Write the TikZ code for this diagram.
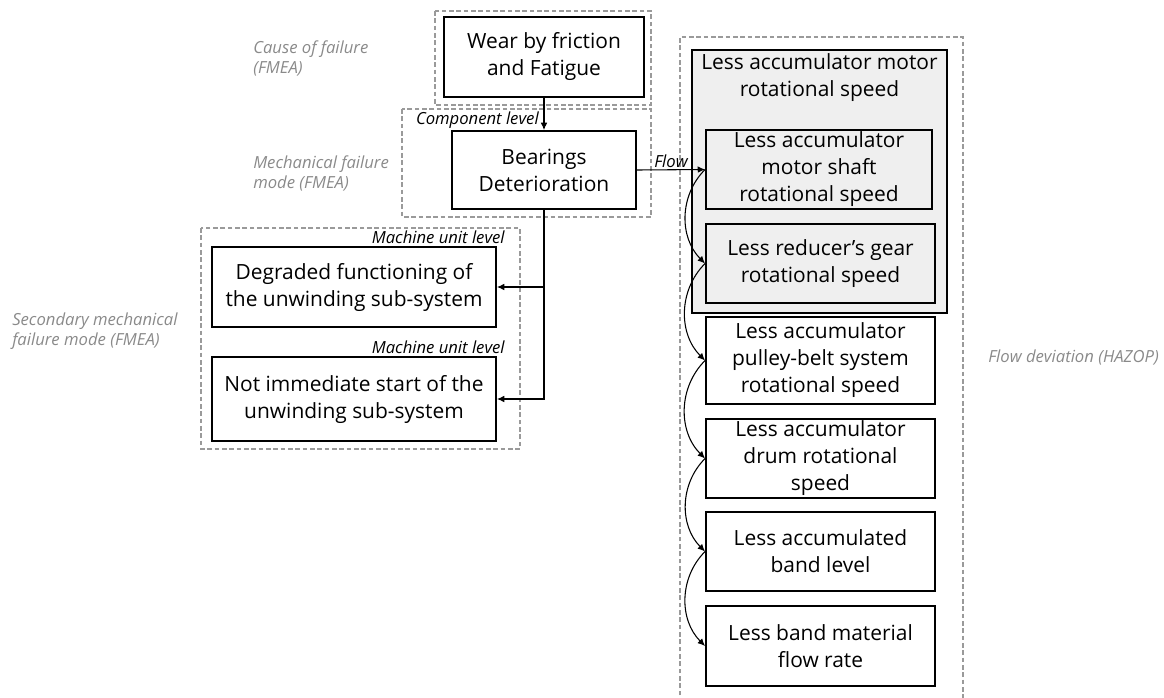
\documentclass[tikz,border=0pt]{standalone}
\usepackage{fontspec}
\setmainfont{Open Sans}
\usetikzlibrary{arrows.meta}

\definecolor{labelgray}{HTML}{8A8A8A}
\definecolor{dashgray}{HTML}{9A9A9A}
\definecolor{groupfill}{HTML}{EFEFEF}

\tikzset{
  x=0.75pt, y=-0.75pt,
  box/.style={draw=black, line width=1.4pt, fill=white, align=center,
    inner sep=0pt, font=\fontsize{15.7}{20.25}\selectfont},
  groupbox/.style={draw=black, line width=1.4pt, fill=groupfill, inner sep=0pt},
  zone/.style={draw=dashgray, line width=1.1pt, dash pattern=on 3.5pt off 2pt},
  sidelabel/.style={text=labelgray, align=left, anchor=west, inner sep=0pt,
    font=\fontsize{12.5}{15}\selectfont\itshape},
  levellabel/.style={anchor=east, inner sep=0pt, font=\fontsize{12.5}{14}\selectfont\itshape},
  arr/.style={draw=black, line width=0.8pt, -{Latex[length=5.5pt,width=5pt]}},
  chain/.style={arr, out=225, in=135, looseness=1},
}

\begin{document}
\begin{tikzpicture}
\useasboundingbox (0,0) rectangle (1164,697);

% dashed zones
\draw[zone] (435,11) rectangle (651,105);
\draw[zone] (402,109) rectangle (651,217);
\draw[zone] (201,228) rectangle (520,449);
\draw[zone] (680,710) -- (680,37) -- (963,37) -- (963,710);

% side labels
\node[sidelabel] (lcause) at (253,58.5) {Cause of failure\\(FMEA)};
\node[sidelabel] (lmech) at (253,173) {Mechanical failure\\mode (FMEA)};
\node[sidelabel] (lsec) at (12,331) {Secondary mechanical\\failure mode (FMEA)};
\node[sidelabel] (lflow) at (988,357) {Flow deviation (HAZOP)};

% level tags
\node[levellabel] (tcomp) at (539,120) {Component level};
\node[levellabel] (tmach1) at (505,237) {Machine unit level};
\node[levellabel] (tmach2) at (505,347) {Machine unit level};

% FMEA side
\node[box, minimum width=150pt, minimum height=60pt] (wear) at (544,57)
  {Wear by friction\\and Fatigue};
\node[box, minimum width=138pt, minimum height=58.5pt] (bear) at (544,170)
  {Bearings\\Deterioration};
\node[box, minimum width=213pt, minimum height=60pt] (degr) at (354,287)
  {Degraded functioning of\\the unwinding sub-system};
\node[box, minimum width=213pt, minimum height=63pt] (noti) at (354,399)
  {Not immediate start of the\\unwinding sub-system};

% HAZOP side
\node[groupbox, minimum width=191.25pt, minimum height=197.25pt] (motor) at (819.5,181.5) {};
\node[align=center, inner sep=0pt, font=\fontsize{15.7}{20.25}\selectfont] (motortxt) at (819.5,78)
  {Less accumulator motor\\rotational speed};
\node[box, fill=groupfill, minimum width=169.5pt, minimum height=59.25pt] (shaft) at (819,169.5)
  {Less accumulator\\motor shaft\\rotational speed};
\node[box, fill=groupfill, minimum width=171.75pt, minimum height=59.25pt] (gear) at (820.5,263.5)
  {Less reducer’s gear\\rotational speed};
\node[box, minimum width=171.75pt, minimum height=65.25pt] (pulley) at (820.5,360.5)
  {Less accumulator\\pulley-belt system\\rotational speed};
\node[box, minimum width=171.75pt, minimum height=59.25pt] (drum) at (820.5,458.5)
  {Less accumulator\\drum rotational\\speed};
\node[box, minimum width=171.75pt, minimum height=59.25pt] (band) at (820.5,551.5)
  {Less accumulated\\band level};
\node[box, minimum width=171.75pt, minimum height=60pt] (rate) at (820.5,646)
  {Less band material\\flow rate};

% connectors
\draw[arr] (wear.south) -- (bear.north);
\draw[arr] (bear.east) -- node[midway, above=1pt, inner sep=0pt,
  font=\fontsize{12.5}{14}\selectfont\itshape] (flowlbl) {Flow} (shaft.west);
\draw[arr] (bear.south) |- (degr.east);
\draw[arr] (bear.south) |- (noti.east);

\draw[chain] (shaft.west) to (gear.west);
\draw[chain] (gear.west) to (pulley.west);
\draw[chain] (pulley.west) to (drum.west);
\draw[chain] (drum.west) to (band.west);
\draw[chain] (band.west) to (rate.west);
\end{tikzpicture}
\end{document}
